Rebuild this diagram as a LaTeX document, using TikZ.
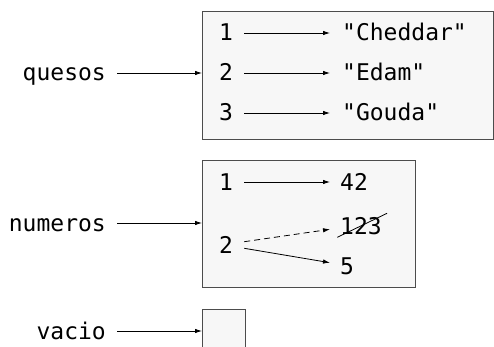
\documentclass[tikz,border=0pt]{standalone}
\usepackage{fontspec}
\setmonofont{DejaVu Sans Mono}
\usetikzlibrary{arrows.meta}
\tikzset{
  lbl/.style={inner sep=0pt, text height=16pt, text depth=0pt, font=\ttfamily\fontsize{23}{27}\selectfont, text=black},
  frame/.style={draw=black!70, fill=black!3, line width=0.9pt, inner sep=0pt, anchor=north west},
  arr/.style={draw=black, line width=0.8pt, -{Latex[length=7pt,width=4.5pt]}},
}
\begin{document}
\begin{tikzpicture}[x=1pt,y=-1pt]
\clip (0,0) rectangle (494,347);
\fill[white] (0,0) rectangle (494,347);
% boxes
\node[frame, minimum width=291pt, minimum height=128pt] (qbox) at (202,11) {};
\node[frame, minimum width=213pt, minimum height=127pt] (nbox) at (202,160) {};
\node[frame, minimum width=43pt, minimum height=60pt] (vbox) at (202,309) {};
% names
\node[lbl, anchor=east] (qname) at (106,73) {quesos};
\node[lbl, anchor=east] (nname) at (106,223) {numeros};
\node[lbl, anchor=east] (vname) at (106,331) {vacio};
\draw[arr] ([xshift=11pt]qname.east) -- (qname.east -| qbox.west);
\draw[arr] ([xshift=11pt]nname.east) -- (nname.east -| nbox.west);
\draw[arr] ([xshift=11pt]vname.east) -- (vname.east -| vbox.west);
% quesos contents
\node[lbl, anchor=west] (k1) at (219,33) {1};
\node[lbl, anchor=west] (k2) at (219,73) {2};
\node[lbl, anchor=west] (k3) at (219,113) {3};
\node[lbl, anchor=west] (s1) at (342,33) {"Cheddar"};
\node[lbl, anchor=west] (s2) at (342,73) {"Edam"};
\node[lbl, anchor=west] (s3) at (342,113) {"Gouda"};
\draw[arr] ([xshift=11pt]k1.east) -- ([xshift=-12pt]s1.west);
\draw[arr] ([xshift=11pt]k2.east) -- ([xshift=-12pt]s2.west);
\draw[arr] ([xshift=11pt]k3.east) -- ([xshift=-12pt]s3.west);
% numeros contents
\node[lbl, anchor=west] (m1) at (219,182) {1};
\node[lbl, anchor=west] (m2) at (219,245) {2};
\node[lbl, anchor=west] (v42) at (340,182) {42};
\node[lbl, anchor=west] (v123) at (340,226) {123};
\node[lbl, anchor=west] (v5) at (340,266) {5};
\draw[arr] ([xshift=11pt]m1.east) -- ([xshift=-10pt]v42.west);
\draw[arr, dash pattern=on 6pt off 4pt] ([xshift=11pt,yshift=3.3pt]m2.east) -- ([xshift=-10pt,yshift=-3.3pt]v123.west);
\draw[arr] ([xshift=11pt,yshift=-3.3pt]m2.east) -- ([xshift=-10pt,yshift=3.3pt]v5.west);
\draw[black, line width=0.8pt] ([xshift=-2.7pt,yshift=-11.3pt]v123.west) -- ([xshift=5.1pt,yshift=12.7pt]v123.east);
\end{tikzpicture}
\end{document}
